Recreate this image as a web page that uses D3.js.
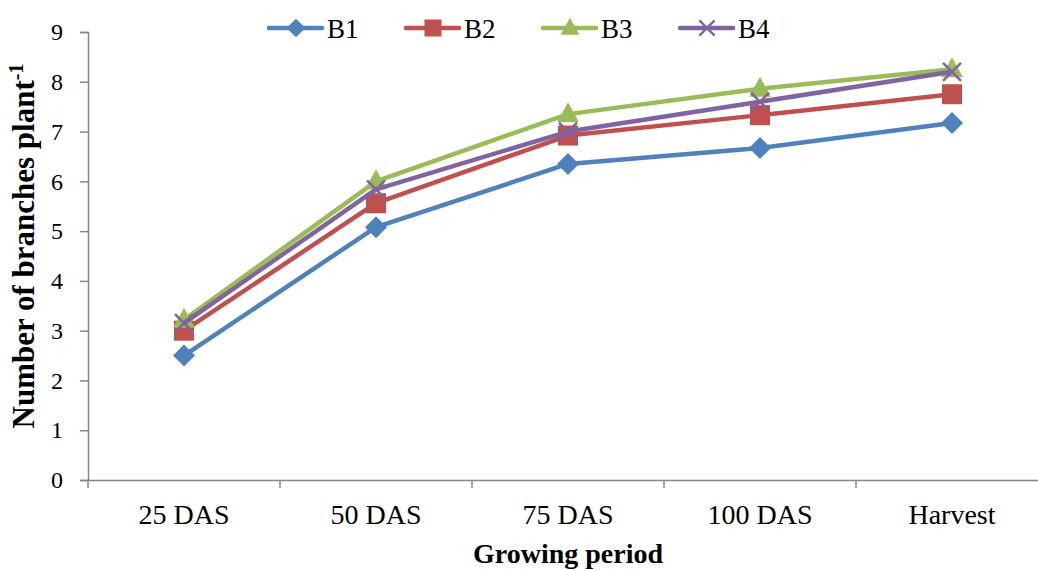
<!DOCTYPE html>
<html><head><meta charset="utf-8">
<script src="https://cdn.jsdelivr.net/npm/d3@7"></script>
<style>body{margin:0;background:#fff}svg{display:block}</style>
</head><body><svg id="c" width="1038" height="570"></svg>
<script>
const categories = ["25 DAS","50 DAS","75 DAS","100 DAS","Harvest"];
const seriesNames = ["B1","B2","B3","B4"];
const b1 = [2.5, 5.08, 6.35, 6.67, 7.17];
const b2 = [3.0, 5.56, 6.92, 7.33, 7.75];
const b3 = [3.22, 6.0, 7.35, 7.86, 8.25];
const b4 = [3.15, 5.84, 7.0, 7.6, 8.2];
const yTicks = [0,1,2,3,4,5,6,7,8,9];
const colors = ["#4F81BD","#C0504D","#9BBB59","#8064A2"];
const symbols = ["diamond","square","triangle","cross"];
const series = [b1,b2,b3,b4];
const FONT = "Liberation Serif";

const svg = d3.select("#c");
const x0 = 88, bandW = 192;
const x = d3.scaleBand().domain(categories).range([x0, x0 + bandW*categories.length]);
const y = d3.scaleLinear().domain([0,9]).range([480,32]);
const axisColor = "#868686";

// y axis
const gy = svg.append("g").attr("transform",`translate(${x0},0)`)
  .call(d3.axisLeft(y).tickValues(yTicks).tickSize(8).tickPadding(17));
gy.select(".domain").attr("stroke",axisColor).attr("stroke-width",1.5);
gy.selectAll(".tick line").attr("stroke",axisColor).attr("stroke-width",1.5);
gy.selectAll(".tick text").attr("font-size",24).attr("fill","#000").style("font-family",FONT);

// x axis
const gx = svg.append("g").attr("transform",`translate(0,${y(0)})`)
  .call(d3.axisBottom(x).tickSize(0).tickPadding(24));
gx.select(".domain").attr("stroke",axisColor).attr("stroke-width",1.5);
gx.selectAll(".tick text").attr("font-size",28).attr("fill","#000").style("font-family",FONT);
// boundary ticks
const bounds = d3.range(categories.length+1).map(i => x0 + i*bandW);
gx.selectAll("line.b").data(bounds).enter().append("line").attr("class","b")
  .attr("x1",d=>d).attr("x2",d=>d).attr("y1",0).attr("y2",8)
  .attr("stroke",axisColor).attr("stroke-width",1.5);

// titles
svg.append("text").attr("x",568).attr("y",563).attr("text-anchor","middle").style("font-family",FONT)
  .attr("font-size",28).attr("font-weight","bold").text("Growing period");
const yt = svg.append("text").attr("transform","translate(34,246) rotate(-90)").style("font-family",FONT)
  .attr("text-anchor","middle").attr("font-size",31).attr("font-weight","bold");
yt.append("tspan").text("Number of branches plant");
yt.append("tspan").attr("dy",-11).attr("font-size",20).text("-1");

// marker drawing
function marker(g, type, color, cx, cy, scale) {
  const s = scale||1;
  if (type==="diamond") {
    g.append("path").attr("d",`M${cx},${cy-11*s}L${cx+11*s},${cy}L${cx},${cy+11*s}L${cx-11*s},${cy}Z`).attr("fill",color);
  } else if (type==="square") {
    g.append("rect").attr("x",cx-10*s).attr("y",cy-10*s).attr("width",20*s).attr("height",20*s).attr("fill",color);
  } else if (type==="triangle") {
    g.append("path").attr("d",`M${cx},${cy-12*s}L${cx+11*s},${cy+8*s}L${cx-11*s},${cy+8*s}Z`).attr("fill",color);
  } else {
    const r=9*s;
    g.append("path").attr("d",`M${cx-r},${cy-r}L${cx+r},${cy+r}M${cx-r},${cy+r}L${cx+r},${cy-r}`)
      .attr("stroke",color).attr("stroke-width",2.5).attr("fill","none");
  }
}

const line = d3.line().x((d,i)=>x(categories[i])+x.bandwidth()/2).y(d=>y(d));
series.forEach((vals,si)=>{
  const g = svg.append("g");
  g.append("path").datum(vals).attr("d",line).attr("fill","none")
    .attr("stroke",colors[si]).attr("stroke-width",4.5).attr("stroke-linejoin","round");
  vals.forEach((v,i)=>marker(g,symbols[si],colors[si],x(categories[i])+x.bandwidth()/2,y(v)));
});

// legend
const legX = [269,406,543,680];
seriesNames.forEach((n,i)=>{
  const g = svg.append("g");
  const lx = legX[i], ly = 28;
  g.append("line").attr("x1",lx).attr("x2",lx+53).attr("y1",ly).attr("y2",ly)
    .attr("stroke",colors[i]).attr("stroke-width",4.5).attr("stroke-linecap","round");
  marker(g,symbols[i],colors[i],lx+27,ly,0.85);
  g.append("text").attr("x",lx+58).attr("y",ly+10).attr("font-size",27).style("font-family",FONT).text(n);
});
</script></body></html>
